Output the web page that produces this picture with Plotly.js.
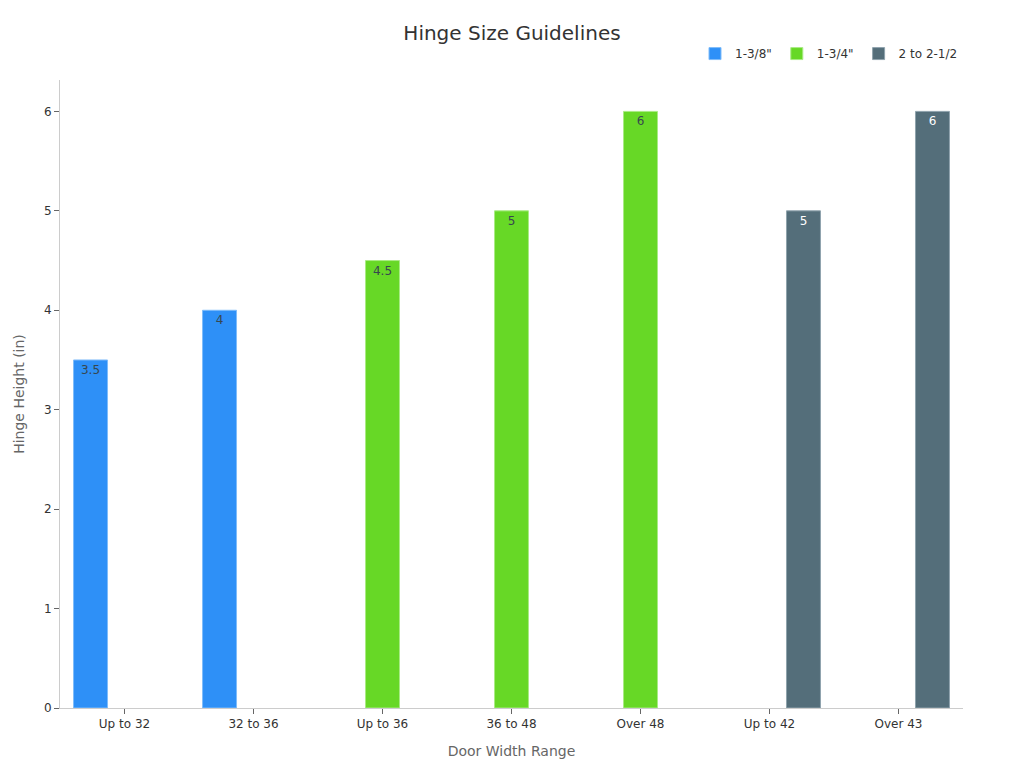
<!DOCTYPE html>
<html>
<head>
<meta charset="utf-8">
<script src="https://cdn.plot.ly/plotly-3.0.1.min.js"></script>
<style>html,body{margin:0;padding:0;background:#fff;}#chart{width:1024px;height:768px;}</style>
</head>
<body>
<div id="chart"></div>
<script>
const categories = ["Up to 32", "32 to 36", "Up to 36", "36 to 48", "Over 48", "Up to 42", "Over 43"];
const seriesNames = ['1-3/8"', '1-3/4"', '2 to 2-1/2'];
const thin = [3.5, 4, null, null, null, null, null];
const medium = [null, null, 4.5, 5, 6, null, null];
const thick = [null, null, null, null, null, 5, 6];
const colors = ["#2E90F7", "#67D826", "#546E7A"];
const lineColors = ["#7FBCFA", "#A9EB85", "#8FA3AD"];
const textColors = ["#37474F", "#37474F", "#FFFFFF"];

const seriesValues = [thin, medium, thick];
const traces = seriesValues.map((vals, i) => ({
  type: "bar",
  name: seriesNames[i],
  x: categories,
  y: vals,
  text: vals.map(v => v === null ? "" : String(v)),
  textposition: "inside",
  insidetextanchor: "end",
  textangle: 0,
  constraintext: "none",
  textfont: {family: "DejaVu Sans, sans-serif", size: 12, color: textColors[i]},
  marker: {color: colors[i], line: {color: lineColors[i], width: 1}},
  hoverinfo: "none"
}));

const layout = {
  width: 1024, height: 768,
  paper_bgcolor: "#fff", plot_bgcolor: "#fff",
  font: {family: "DejaVu Sans, sans-serif", size: 12, color: "#333"},
  margin: {l: 60, r: 61, t: 80, b: 60},
  barmode: "group",
  bargap: 0.21,
  bargroupgap: 0,
  title: {text: "Hinge Size Guidelines", x: 0.5, xanchor: "center", y: 0.957, yanchor: "middle",
          font: {family: "DejaVu Sans, sans-serif", size: 20, color: "#333"}},
  showlegend: true,
  legend: {orientation: "h", x: 1, xanchor: "right", y: 1.019, yanchor: "bottom",
           font: {size: 12, color: "#333"}, itemwidth: 30, traceorder: "normal"},
  xaxis: {
    title: {text: "Door Width Range", font: {size: 14, color: "#666"}, standoff: 15},
    showline: true, linecolor: "#ccc", linewidth: 1,
    ticks: "outside", ticklen: 5, tickcolor: "#666",
    showgrid: false, zeroline: false
  },
  yaxis: {
    title: {text: "Hinge Height (in)", font: {size: 14, color: "#666"}, standoff: 16},
    showline: true, linecolor: "#ccc", linewidth: 1,
    ticks: "outside", ticklen: 5, tickcolor: "#666",
    showgrid: false, zeroline: false, dtick: 1
  }
};

Plotly.newPlot("chart", traces, layout, {displayModeBar: false, staticPlot: true});
</script>
</body>
</html>
